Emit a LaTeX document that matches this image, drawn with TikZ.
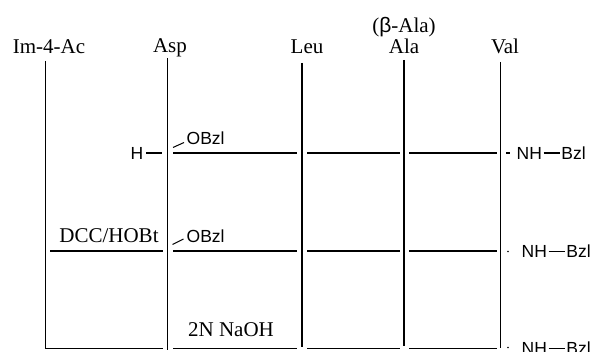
\documentclass[tikz,border=0pt]{standalone}
\usepackage{fontspec}
\setmainfont{Liberation Serif}
\setsansfont{Liberation Sans}
\begin{document}
\begin{tikzpicture}[x=1pt,y=-1pt,
  lbl/.style={font=\fontsize{21}{24}\selectfont, inner sep=0pt, anchor=base},
  grp/.style={font=\sffamily\fontsize{17.5}{20}\selectfont, inner sep=0pt},
  chain/.style={line width=1.6pt},
  bond/.style={line width=1.3pt},
  dotmark/.style={fill, inner sep=0pt, minimum size=1.6pt, circle}]
\useasboundingbox (0,0) rectangle (596,352);

% residue labels
\node[lbl] (im)   at (49,54)    {Im-4-Ac};
\node[lbl] (asp)  at (170,53)   {Asp};
\node[lbl] (leu)  at (307,54)   {Leu};
\node[lbl] (ala)  at (404,53.5) {Ala};
\node[lbl] (bala) at (404,32.5) {({\sffamily β}-Ala)};
\node[lbl] (val)  at (505,53.5) {Val};

% vertical chains
\coordinate (imT)  at (45.5,61);   \coordinate (imB)  at (45.5,348.5);
\coordinate (aspT) at (167.5,58);  \coordinate (aspB) at (167.5,350);
\coordinate (leuT) at (302,63);    \coordinate (leuB) at (302,347);
\coordinate (alaT) at (404,60);    \coordinate (alaB) at (404,346);
\coordinate (valT) at (500.5,62);  \coordinate (valB) at (500.5,348);
\coordinate (r3L)  at (163,348.5);

\draw[chain, line join=miter] (imT) -- (imB) -- (r3L);
\draw[chain] (aspT) -- (aspB);
\draw[chain] (leuT) -- (leuB);
\draw[chain] (alaT) -- (alaB);
\draw[chain] (valT) -- (valB);

% peptide bonds between residues, one row per step
\foreach \y/\r in {153/a, 251/b, 348.5/c}{
  \coordinate (\r1) at (173,\y);   \coordinate (\r2) at (297,\y);
  \coordinate (\r3) at (307,\y);   \coordinate (\r4) at (400,\y);
  \coordinate (\r5) at (409,\y);   \coordinate (\r6) at (497,\y);
  \draw[bond] (\r1) -- (\r2);
  \draw[bond] (\r3) -- (\r4);
  \draw[bond] (\r5) -- (\r6);
}

% step 1: H-Asp(OBzl)-...-Val-NH-Bzl
\node[grp] (h) at (137,153) {H};
\coordinate (hb1) at (146,153); \coordinate (hb2) at (162,153);
\draw[bond] (hb1) -- (hb2);
\node[grp, anchor=west] (obzl1) at (186.5,138.5) {OBzl};
\coordinate (s1a) at (173,147.5); \coordinate (s1b) at (184,142.5);
\draw[line width=1pt] (s1a) -- (s1b);
\coordinate (t1a) at (506,153); \coordinate (t1b) at (510,153);
\draw[bond] (t1a) -- (t1b);
\node[grp, anchor=west] (nh1) at (516.5,153) {NH};
\node[grp, anchor=west] (bzl1) at ([xshift=19pt]nh1.east) {Bzl};
\draw[bond] ([xshift=1.5pt]nh1.east) -- ([xshift=-1.5pt]bzl1.west);

% step 2: coupling with DCC/HOBt
\node[lbl] (dcc) at (109,243) {DCC/HOBt};
\coordinate (d1) at (50,251); \coordinate (d2) at (163,251);
\draw[bond] (d1) -- (d2);
\node[grp, anchor=west] (obzl2) at (186.5,236.5) {OBzl};
\coordinate (s2a) at (172.5,244.5); \coordinate (s2b) at (183.5,239);
\draw[line width=1pt] (s2a) -- (s2b);
\node[dotmark] (dot2) at (508,251.5) {};
\node[grp, anchor=west] (nh2) at (521.5,251.5) {NH};
\node[grp, anchor=west] (bzl2) at ([xshift=19pt]nh2.east) {Bzl};
\draw[bond] ([xshift=1.5pt]nh2.east) -- ([xshift=-1.5pt]bzl2.west);

% step 3: saponification
\node[lbl] (naoh) at (231,336) {2N NaOH};
\node[dotmark] (dot3) at (508,347.5) {};
\node[grp, anchor=west] (nh3) at (521.5,348.5) {NH};
\node[grp, anchor=west] (bzl3) at ([xshift=19pt]nh3.east) {Bzl};
\draw[bond] ([xshift=1.5pt]nh3.east) -- ([xshift=-1.5pt]bzl3.west);
\end{tikzpicture}
\end{document}
